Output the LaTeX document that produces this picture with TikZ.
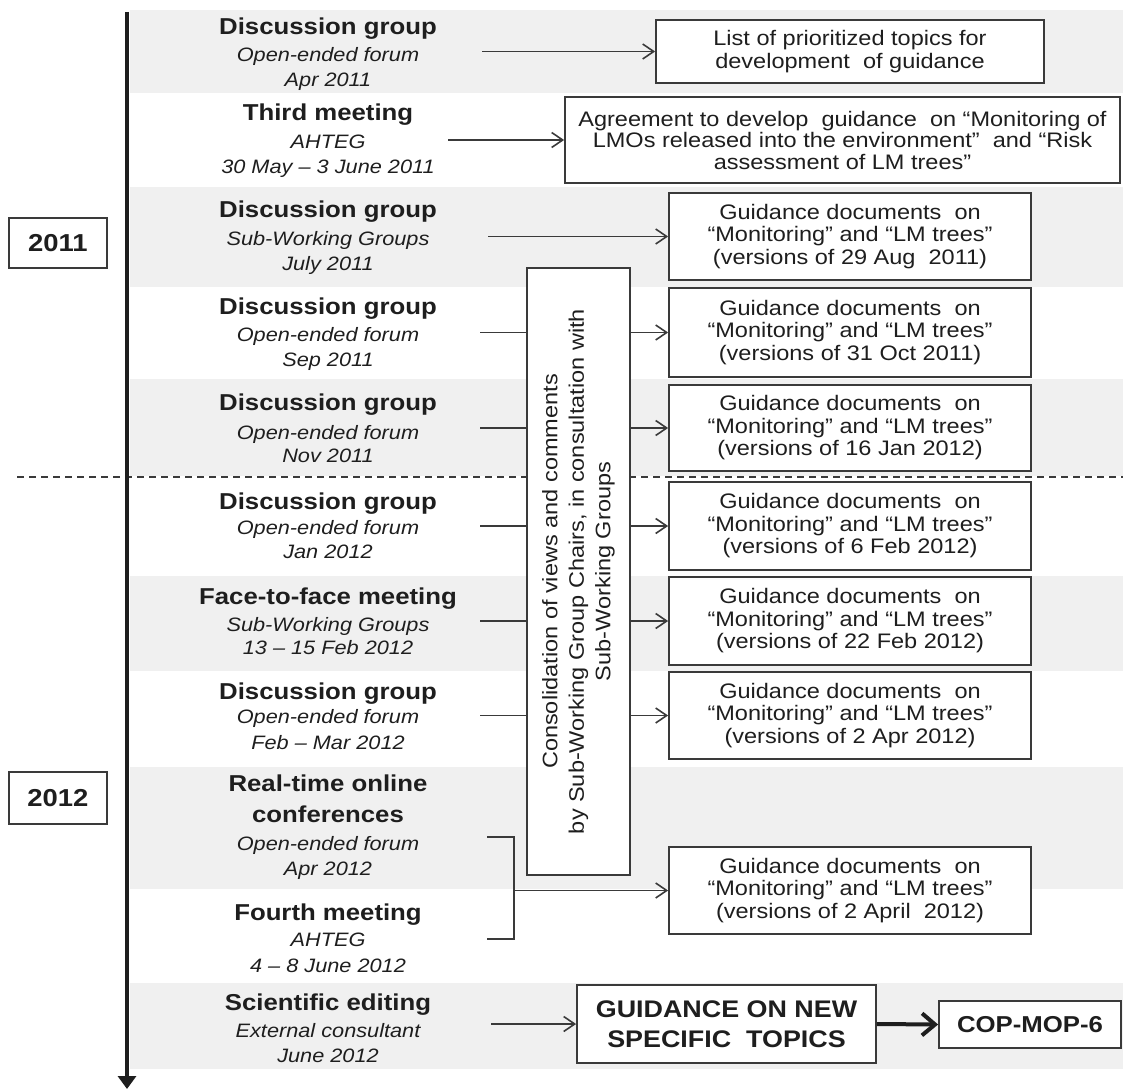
\documentclass[tikz,border=0pt]{standalone}
\usepackage{fontspec}
\setmainfont{Liberation Sans}[FakeStretch=1.12]
\usetikzlibrary{arrows.meta}
\definecolor{bandgray}{HTML}{F0F0F0}
\definecolor{ink}{HTML}{1E1E1E}
\definecolor{bord}{HTML}{3A3A3A}
\definecolor{conncol}{HTML}{3A3A3A}
\newcommand\evtitlefont{\fontsize{23}{26}\selectfont\bfseries}
\newcommand\evsubfont{\fontsize{19.4}{22}\selectfont\itshape}
\newcommand\rboxfont{\fontsize{21}{22.5}\selectfont}
\begin{document}
\begin{tikzpicture}[x=1pt,y=-1pt,
  band/.style={fill=bandgray,draw=none},
  ttl/.style={anchor=base,font=\evtitlefont,text=ink,inner sep=0pt},
  sub/.style={anchor=base,font=\evsubfont,text=ink,inner sep=0pt},
  rbox/.style={draw=bord,line width=1.8pt,fill=white,align=center,inner sep=0pt,font=\rboxfont,text=ink},
  yearbox/.style={draw=bord,line width=1.8pt,fill=white,inner sep=0pt,font=\fontsize{24.5}{28}\selectfont\bfseries,text=ink},
  conn/.style={draw=conncol,line width=1.6pt},
  arr/.style={conn,-{Straight Barb[length=11pt,width=15pt]}},
  thickarr/.style={draw=ink,line width=4pt,-{Straight Barb[length=13pt,width=22pt,line width=4pt]}}
]
\useasboundingbox (0,0) rectangle (1123,1091);
% bands
\fill[band] (130,10) rectangle (1123,93);
\fill[band] (130,187) rectangle (1123,287);
\fill[band] (130,379) rectangle (1123,476);
\fill[band] (130,576) rectangle (1123,671);
\fill[band] (130,767) rectangle (1123,889);
\fill[band] (130,983) rectangle (1123,1069);
% year separator
\coordinate (d0) at (17,477);
\coordinate (d1) at (1123,477);
\draw[draw=conncol,line width=1.5pt,dash pattern=on 7pt off 5pt] (d0) -- (d1);
% timeline
\coordinate (tl0) at (127,12);
\coordinate (tl1) at (127,1089);
\draw[draw=ink,line width=4pt,-{Triangle[length=13pt,width=18pt]}] (tl0) -- (tl1);
% year boxes
\node[yearbox,minimum width=98pt,minimum height=50pt] (y2011) at (58,243) {2011};
\node[yearbox,minimum width=98pt,minimum height=52pt] (y2012) at (58,798) {2012};
% events
\node[ttl] (e1t) at (328,35) {Discussion group};
\node[sub] (e1s) at (328,62) {Open-ended forum};
\node[sub] (e1d) at (328,87) {Apr 2011};
\node[ttl] (e2t) at (328,121) {Third meeting};
\node[sub] (e2s) at (328,149) {AHTEG};
\node[sub] (e2d) at (328,174) {30 May – 3 June 2011};
\node[ttl] (e3t) at (328,218) {Discussion group};
\node[sub] (e3s) at (328,245) {Sub-Working Groups};
\node[sub] (e3d) at (328,270) {July 2011};
\node[ttl] (e4t) at (328,314) {Discussion group};
\node[sub] (e4s) at (328,341) {Open-ended forum};
\node[sub] (e4d) at (328,366) {Sep 2011};
\node[ttl] (e5t) at (328,410) {Discussion group};
\node[sub] (e5s) at (328,439) {Open-ended forum};
\node[sub] (e5d) at (328,462) {Nov 2011};
\node[ttl] (e6t) at (328,509) {Discussion group};
\node[sub] (e6s) at (328,534) {Open-ended forum};
\node[sub] (e6d) at (328,558) {Jan 2012};
\node[ttl] (e7t) at (328,604) {Face-to-face meeting};
\node[sub] (e7s) at (328,631) {Sub-Working Groups};
\node[sub] (e7d) at (328,654) {13 – 15 Feb 2012};
\node[ttl] (e8t) at (328,699) {Discussion group};
\node[sub] (e8s) at (328,723) {Open-ended forum};
\node[sub] (e8d) at (328,749) {Feb – Mar 2012};
\node[ttl] (e9t) at (328,791) {Real-time online};
\node[ttl] (e9u) at (328,822) {conferences};
\node[sub] (e9s) at (328,850) {Open-ended forum};
\node[sub] (e9d) at (328,875) {Apr 2012};
\node[ttl] (e10t) at (328,920) {Fourth meeting};
\node[sub] (e10s) at (328,946) {AHTEG};
\node[sub] (e10d) at (328,972) {4 – 8 June 2012};
\node[ttl] (e11t) at (328,1010) {Scientific editing};
\node[sub] (e11s) at (328,1037) {External consultant};
\node[sub] (e11d) at (328,1062) {June 2012};
% consolidation box
\node[draw=bord,line width=1.8pt,fill=white,minimum width=103pt,minimum height=607pt,inner sep=0pt] (cons) at (578.5,571.5) {};
\node[rotate=90,align=center,font=\fontsize{21}{26.5}\selectfont,text=ink,inner sep=0pt] (constxt) at (cons.center) {Consolidation of views and comments\\by Sub-Working Group Chairs, in consultation with\\Sub-Working Groups};
% result boxes
\node[rbox,minimum width=388pt,minimum height=63pt] (b1) at (850,51.5) {List of prioritized topics for\\development\ \ of guidance};
\node[rbox,minimum width=555pt,minimum height=86pt,font=\fontsize{21}{21.5}\selectfont] (b2) at (842.5,140) {Agreement to develop\ \ guidance\ \ on “Monitoring of\\LMOs released into the environment”\ \ and “Risk\\assessment of LM trees”};
\node[rbox,minimum width=362pt,minimum height=87pt] (b3) at (850,236.5) {Guidance documents\ \ on\\“Monitoring” and “LM trees”\\(versions of 29 Aug\ \ 2011)};
\node[rbox,minimum width=362pt,minimum height=89pt] (b4) at (850,332.5) {Guidance documents\ \ on\\“Monitoring” and “LM trees”\\(versions of 31 Oct 2011)};
\node[rbox,minimum width=362pt,minimum height=86pt] (b5) at (850,428) {Guidance documents\ \ on\\“Monitoring” and “LM trees”\\(versions of 16 Jan 2012)};
\node[rbox,minimum width=362pt,minimum height=88pt] (b6) at (850,526) {Guidance documents\ \ on\\“Monitoring” and “LM trees”\\(versions of 6 Feb 2012)};
\node[rbox,minimum width=362pt,minimum height=88pt] (b7) at (850,621) {Guidance documents\ \ on\\“Monitoring” and “LM trees”\\(versions of 22 Feb 2012)};
\node[rbox,minimum width=362pt,minimum height=87pt] (b8) at (850,715.5) {Guidance documents\ \ on\\“Monitoring” and “LM trees”\\(versions of 2 Apr 2012)};
\node[rbox,minimum width=362pt,minimum height=87pt] (b9) at (850,890.5) {Guidance documents\ \ on\\“Monitoring” and “LM trees”\\(versions of 2 April\ \ 2012)};
\node[rbox,minimum width=299pt,minimum height=78pt,font=\fontsize{24}{30}\selectfont\bfseries] (gd) at (726.5,1024) {GUIDANCE ON NEW\\SPECIFIC\ \ TOPICS};
\node[rbox,minimum width=182pt,minimum height=47pt,font=\fontsize{23}{26}\selectfont\bfseries] (cop) at (1030,1024.5) {COP-MOP-6};
% connectors
\coordinate (s1) at (482,51.5);
\coordinate (s2) at (448,140);
\coordinate (s3) at (488,236.5);
\draw[arr] (s1) -- (b1.west);
\draw[arr] (s2) -- (b2.west);
\draw[arr] (s3) -- (b3.west);
\foreach \b in {b4,b5,b6,b7,b8}{
  \coordinate (s\b) at (480,0 |- \b.west);
  \draw[conn] (s\b) -- (s\b -| cons.west);
  \draw[arr] (s\b -| cons.east) -- (\b.west);
}
% bracket
\coordinate (k1) at (487,837);
\coordinate (k2) at (487,939);
\coordinate (k1r) at (514,837);
\coordinate (k2r) at (514,939);
\coordinate (kj) at (514,890.5);
\draw[conn] (k1) -- (k1r) -- (k2r) -- (k2);
\draw[arr] (kj) -- (b9.west);
\coordinate (s11) at (491,1024);
\draw[arr] (s11) -- (gd.west);
\draw[thickarr] (gd.east) -- (cop.west);
\end{tikzpicture}
\end{document}
